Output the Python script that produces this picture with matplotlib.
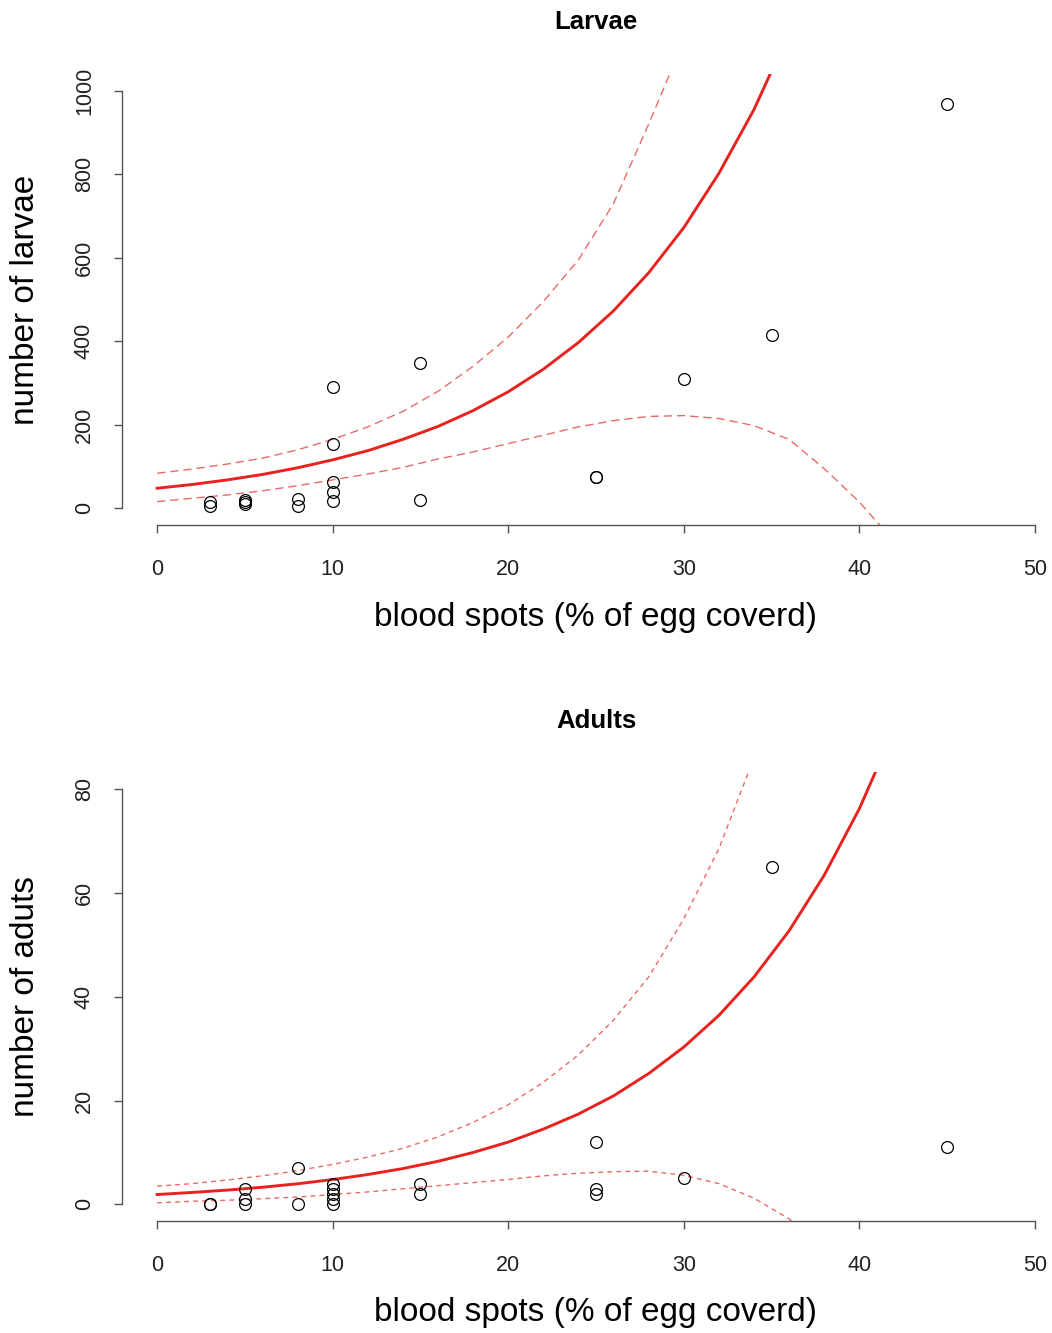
import numpy as np
import matplotlib
matplotlib.use("Agg")
from matplotlib import pyplot as plt

plt.rcParams["font.family"] = ["Liberation Sans", "DejaVu Sans"]

# observed points, larvae
lar_x = [3, 3, 5, 5, 5, 8, 8, 10, 10, 10, 10, 10, 15, 15, 25, 25, 30, 35, 45]
lar_y = [14, 5, 19, 14, 10, 22, 5, 290, 153, 62, 40, 17, 349, 19, 74, 74, 309, 416, 969]

# observed points, adults
ad_x = [3, 3, 5, 5, 5, 8, 8, 10, 10, 10, 10, 10, 15, 15, 25, 25, 25, 30, 35, 45]
ad_y = [0, 0, 3, 1, 0, 7, 0, 4, 3, 2, 1, 0, 4, 2, 12, 3, 2, 5, 65, 11]

# fitted curve and +/- bands
grid = [0, 2, 4, 6, 8, 10, 12, 14, 16, 18, 20, 22, 24, 26, 28, 30, 32, 34, 36, 38, 40, 42]

lar_fit = [48, 57, 68, 81, 97, 116, 138, 165, 196, 234, 279, 333, 397, 473, 564, 672,
           802, 955, 1139, 1360, 1620, 1930]
lar_up = [84, 94, 106, 120, 140, 165, 195, 232, 280, 340, 410, 495, 595, 730, 920, 1120,
          1360, 1650, 2000, 2400, 2900, 3500]
lar_lo = [16, 24, 32, 42, 54, 68, 82, 98, 118, 135, 155, 175, 195, 210, 220, 222,
          215, 198, 165, 95, 15, -80]

ad_fit = [1.9, 2.3, 2.75, 3.3, 3.97, 4.78, 5.75, 6.9, 8.3, 10.0, 12.0, 14.5, 17.4, 20.9,
          25.2, 30.3, 36.4, 43.8, 52.7, 63.4, 76.2, 91.6]
ad_up = [3.5, 4.0, 4.7, 5.5, 6.5, 7.7, 9.1, 10.8, 13.0, 15.8, 19.2, 23.5, 28.8, 35.5,
         43.8, 55, 68.5, 86, 107, 130, 160, 195]
ad_lo = [0.3, 0.6, 0.8, 1.1, 1.4, 1.9, 2.4, 3.0, 3.6, 4.2, 4.8, 5.5, 6.0, 6.3,
         6.4, 5.6, 4.0, 1.2, -2.8, -8, -15, -25]

W, H = 1052, 1333
fig = plt.figure(figsize=(W / 100, H / 100), dpi=100)

grey = "#555555"
band = "#e96a6a"


def panel(rect, xs, ys, fit, up, lo, ymax, yticks, title, ylabel, dash):
    ax = fig.add_axes(rect)
    ax.set_xlim(-2, 52)
    ax.set_ylim(-0.04 * ymax, 1.04 * ymax)

    ax.plot(grid, fit, "-", color="#e8221e", lw=2.1)
    ax.plot(grid, up, "--", color=band, lw=1.0, dashes=dash)
    ax.plot(grid, lo, "--", color=band, lw=1.0, dashes=dash)
    ax.plot(xs, ys, "o", mfc="none", mec="black", ms=8.5, mew=0.9)

    for s in ["top", "right"]:
        ax.spines[s].set_visible(False)
    ax.spines["left"].set_bounds(0, ymax)
    ax.spines["bottom"].set_bounds(0, 50)
    for s in ["left", "bottom"]:
        ax.spines[s].set_color(grey)
        ax.spines[s].set_linewidth(1.0)

    ax.set_xticks([0, 10, 20, 30, 40, 50])
    ax.set_yticks(yticks)
    ax.tick_params(axis="both", direction="out", length=5.5, width=1.0,
                   color=grey, labelsize=15.5, labelcolor="#222222")
    ax.tick_params(axis="x", pad=19)
    ax.tick_params(axis="y", pad=14)
    plt.setp(ax.get_yticklabels(), rotation=90, va="center")

    ax.set_xlabel("blood spots (% of egg coverd)", fontsize=24, va="center")
    ax.xaxis.set_label_coords(0.5, -0.205)
    ax.set_ylabel(ylabel, fontsize=24, va="center")
    ax.yaxis.set_label_coords(-0.102, 0.5)
    ax.text(0.5, 1.115, title, transform=ax.transAxes, ha="center", va="center",
            fontsize=18.5, fontweight="bold")
    return ax


panel([122 / W, 1 - 525 / H, 948 / W, 451 / H], lar_x, lar_y, lar_fit, lar_up, lar_lo,
      1000, [0, 200, 400, 600, 800, 1000], "Larvae", "number of larvae", (6, 3.5))
panel([122 / W, 1 - 1221 / H, 948 / W, 448.6 / H], ad_x, ad_y, ad_fit, ad_up, ad_lo,
      80, [0, 20, 40, 60, 80], "Adults", "number of aduts", (3.5, 3))

fig.savefig("out.png", dpi=100)
